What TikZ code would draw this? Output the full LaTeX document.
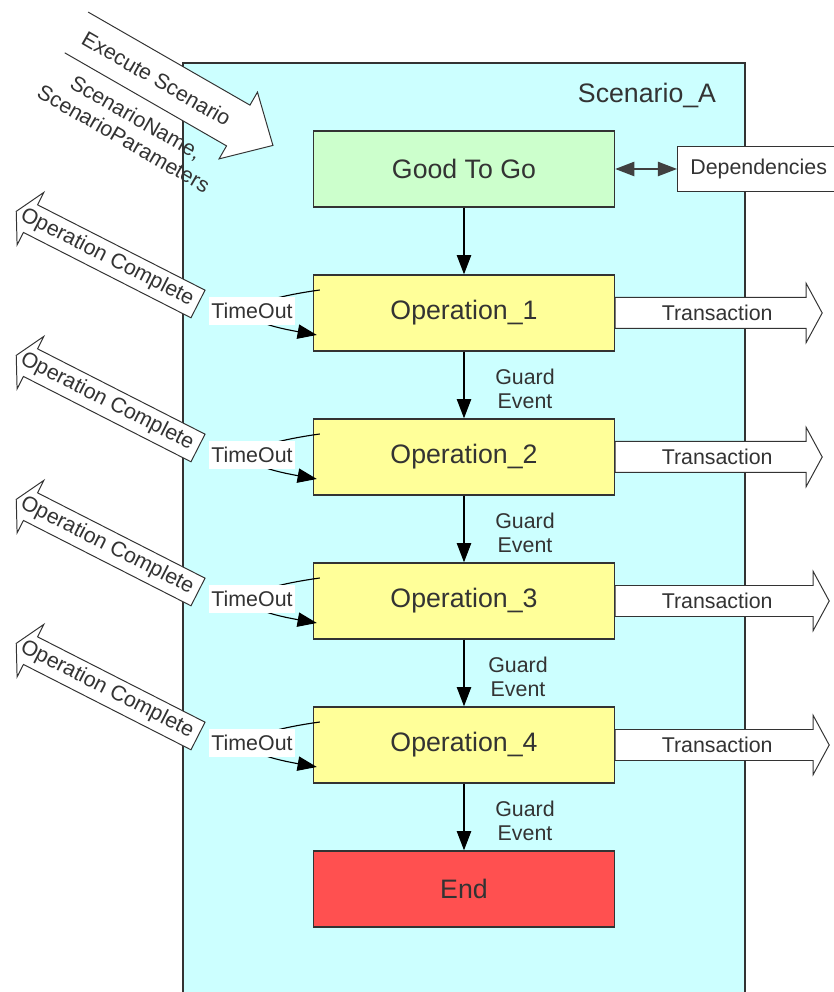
\documentclass[tikz,border=0pt]{standalone}
\usepackage{fontspec}
\setmainfont{Liberation Sans}
\usetikzlibrary{arrows.meta,calc}

\definecolor{scenariocyan}{HTML}{CCFFFF}
\definecolor{startgreen}{HTML}{CCFFCC}
\definecolor{opyellow}{HTML}{FFFF99}
\definecolor{endred}{HTML}{FF5050}
\definecolor{inkgray}{HTML}{333333}

\newcommand{\stagefont}{\fontsize{19}{22}\selectfont}
\newcommand{\notefont}{\fontsize{15.2}{17.5}\selectfont}

% block arrow: [tail closing] {tail} {angle} {length} {body half} {head half} {head length}
\newcommand{\fatarrow}[7][-- cycle]{%
  \begin{scope}[shift={#2}, rotate=#3]
    \fill[white] (0,#5) -- ({#4-#7},#5) -- ({#4-#7},#6) -- (#4,0) -- ({#4-#7},-#6) -- ({#4-#7},-#5) -- (0,-#5) -- cycle;
    \draw[inkgray, line width=0.7pt] (0,#5) -- ({#4-#7},#5) -- ({#4-#7},#6) -- (#4,0) -- ({#4-#7},-#6) -- ({#4-#7},-#5) -- (0,-#5) #1;
  \end{scope}}

\tikzset{
  stagebox/.style={draw=inkgray, line width=1pt, minimum width=7.525cm, minimum height=1.9cm, font=\stagefont, text=inkgray},
  note/.style={font=\notefont, text=inkgray},
  flow/.style={->, line width=0.8pt, black}
}

\begin{document}
\begin{tikzpicture}[>={Triangle[length=0.48cm,width=0.36cm]}]
    \useasboundingbox (0,0) rectangle (20.85,24.8);
    \filldraw[fill=scenariocyan, draw=inkgray, line width=1.2pt] (4.575,-0.5) rectangle (18.625,23.225);
    \node[font=\stagefont, text=inkgray] (scn) at (16.175,22.425) {Scenario\_A};

    \node[stagebox, fill=startgreen] (good) at (11.6,20.575) {Good To Go};
    \node[stagebox, fill=opyellow] (op1) at (11.6,16.975) {Operation\_1};
    \node[stagebox, fill=opyellow] (op2) at (11.6,13.375) {Operation\_2};
    \node[stagebox, fill=opyellow] (op3) at (11.6,9.775) {Operation\_3};
    \node[stagebox, fill=opyellow] (op4) at (11.6,6.175) {Operation\_4};
    \node[stagebox, fill=endred] (end) at (11.6,2.575) {End};

    % incoming command
    \coordinate (cmdtail) at (1.9125,23.9875);
    \fatarrow[]{(cmdtail)}{-29.9}{5.665}{0.5875}{0.9625}{1.0}
    \node[note, rotate=-29.9] (exec) at ($(cmdtail)+(-29.9:2.31)$) {Execute Scenario};
    \node[note, rotate=-29.9, align=center] (args) at ($(3.35,21.775)+(-119.9:0.2)$) {ScenarioName,\\ScenarioParameters};

    \node[draw=inkgray, fill=white, line width=0.8pt, minimum height=1.125cm, inner xsep=0.32cm, anchor=west, note] (deps) at (16.925,20.575) {Dependencies};
    \draw[<->, black!75, line width=1pt] (good.east) -- (deps.west);

    \foreach \i/\tl in {1/5.175, 2/5.175, 3/5.35, 4/5.35} {
        \fatarrow{($(op\i)+(-6.65,0.225)$)}{153}{5.1}{0.3875}{0.7375}{0.4}
        \node[note, rotate=-27] (done\i) at ($(op\i)+(-6.65,0.225)+(153:2.55)$) {Operation Complete};
        \fatarrow{(op\i.east)}{0}{\tl}{0.3875}{0.7375}{0.4}
        \node[note] (trans\i) at ($(op\i.east)+(2.55,0)$) {Transaction};
        \coordinate (tin\i) at ($(op\i.west)+(0.175,0.575)$);
        \coordinate (tout\i) at ($(op\i.west)+(0.1,-0.55)$);
        \draw[flow] (tin\i) to[out=188, in=170, looseness=5] (tout\i);
        \node[note, fill=white, inner xsep=1.5pt, minimum height=0.7cm] (time\i) at ($(op\i)+(-5.3,0.05)$) {TimeOut};
    }

    \draw[flow] (good) -- (op1);
    \draw[flow] (op1) -- (op2) node[note, midway, xshift=1.525cm, yshift=-0.1cm, align=center] (g1) {Guard\\Event};
    \draw[flow] (op2) -- (op3) node[note, midway, xshift=1.525cm, yshift=-0.1cm, align=center] (g2) {Guard\\Event};
    \draw[flow] (op3) -- (op4) node[note, midway, xshift=1.35cm, yshift=-0.1cm, align=center] (g3) {Guard\\Event};
    \draw[flow] (op4) -- (end) node[note, midway, xshift=1.525cm, yshift=-0.1cm, align=center] (g4) {Guard\\Event};
\end{tikzpicture}
\end{document}
